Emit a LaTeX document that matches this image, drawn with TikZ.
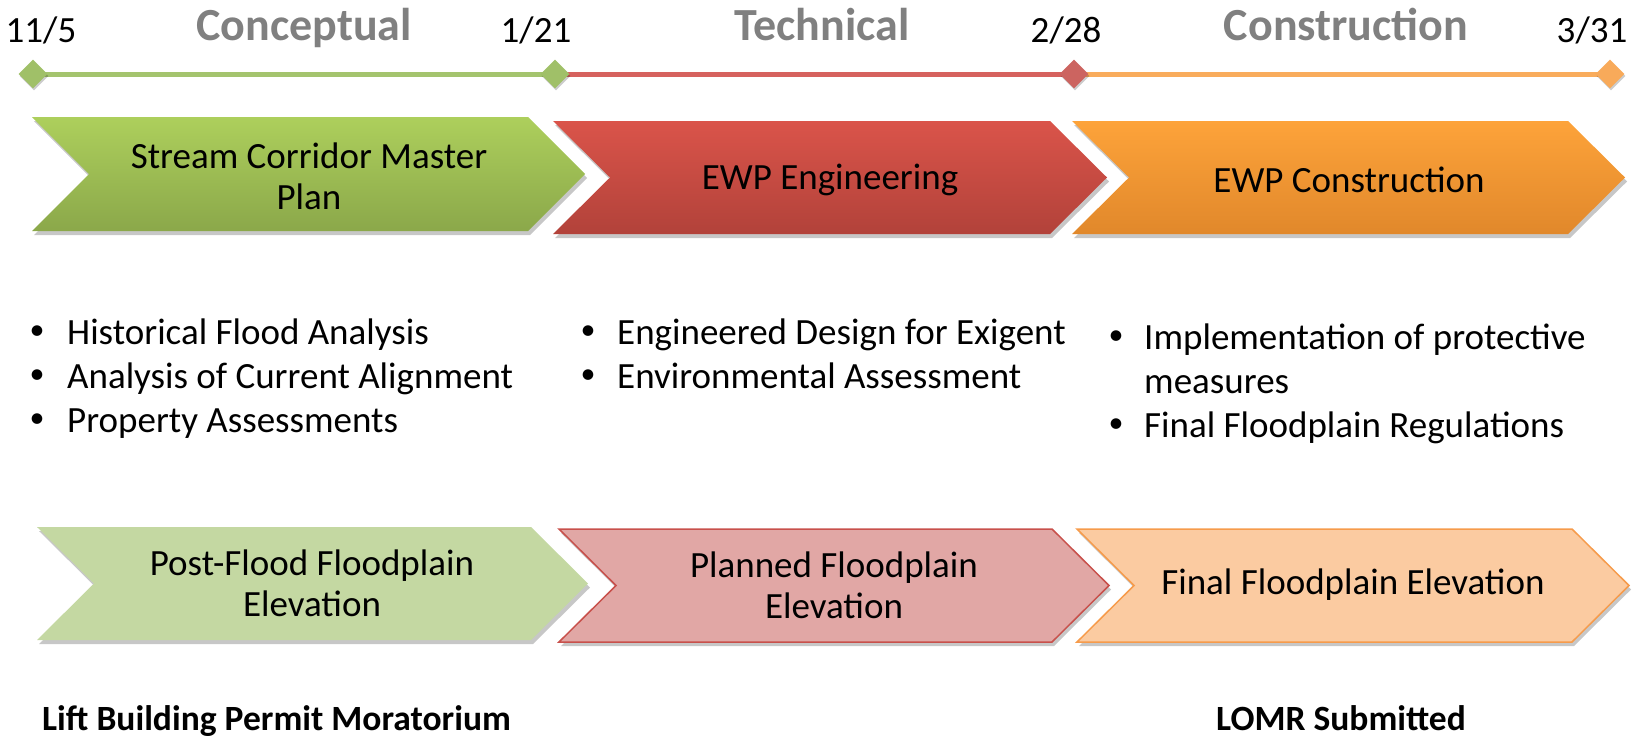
\documentclass[tikz,border=0pt]{standalone}
\usepackage{fontspec}
\setmainfont{Carlito}
\usetikzlibrary{shapes.geometric,shadows}
\definecolor{gtop}{RGB}{173,207,92}
\definecolor{gbot}{RGB}{139,168,74}
\definecolor{rtop}{RGB}{218,84,74}
\definecolor{rbot}{RGB}{178,66,58}
\definecolor{otop}{RGB}{253,163,58}
\definecolor{obot}{RGB}{225,136,43}
\definecolor{gline}{RGB}{164,196,110}
\definecolor{rline}{RGB}{214,98,94}
\definecolor{oline}{RGB}{249,172,92}
\definecolor{gdia}{RGB}{160,192,104}
\definecolor{rdia}{RGB}{204,100,96}
\definecolor{odia}{RGB}{248,170,90}
\definecolor{glight}{RGB}{196,216,162}
\definecolor{rlight}{RGB}{225,167,165}
\definecolor{rborder}{RGB}{200,80,75}
\definecolor{olight}{RGB}{251,203,161}
\definecolor{oborder}{RGB}{246,155,75}
\definecolor{phasegray}{RGB}{128,128,128}
\newcommand\chevshape[6]{%
  \path[#1] (#2,#3) -- ({#4-#6},#3) -- (#4,{(#3+#5)/2}) -- ({#4-#6},#5) -- (#2,#5) -- ({#2+#6},{(#3+#5)/2}) -- cycle;}
\tikzset{
  datelbl/.style={font=\fontsize{37}{44}\selectfont, anchor=base, inner sep=0pt},
  phaselbl/.style={font=\fontsize{46}{50}\selectfont\bfseries, text=phasegray, anchor=base, inner sep=0pt},
  dia/.style={diamond, minimum width=29pt, minimum height=29pt, inner sep=0pt, fill=#1,
     drop shadow={shadow xshift=1pt, shadow yshift=-2pt, opacity=0.2, fill=black}},
  tline/.style={line width=5pt, draw=#1},
  chevtxt/.style={font=\fontsize{37}{41}\selectfont, align=center, inner sep=0pt},
  bul/.style={font=\fontsize{37}{44}\selectfont, anchor=base west, inner sep=0pt},
  bdot/.style={font=\fontsize{30}{30}\selectfont, anchor=center, inner sep=0pt},
  milestone/.style={font=\fontsize{35.5}{44}\selectfont\bfseries, anchor=base, inner sep=0pt},
  shad/.style={drop shadow={shadow xshift=2pt, shadow yshift=-4pt, opacity=0.22, fill=black}},
}
\begin{document}
\begin{tikzpicture}[x=1pt,y=-1pt]
\useasboundingbox (0,0) rectangle (1637,744);

% timeline anchors (drawn first so lines sit underneath the diamonds)
\coordinate (k1) at (33,74);
\coordinate (k2) at (555,74);
\coordinate (k3) at (1074,74);
\coordinate (k4) at (1610,74);
\draw[tline=gline] (k1) -- (k2);
\draw[tline=rline] (k2) -- (k3);
\draw[tline=oline] (k3) -- (k4);
\node[dia=gdia] (d1) at (k1) {};
\node[dia=gdia] (d2) at (k2) {};
\node[dia=rdia] (d3) at (k3) {};
\node[dia=odia] (d4) at (k4) {};

% dates and phase titles
\node[datelbl] (t1) at (41,42) {11/5};
\node[datelbl] (t2) at (536,42) {1/21};
\node[datelbl] (t3) at (1066,42) {2/28};
\node[datelbl] (t4) at (1592,42) {3/31};
\node[phaselbl] (ph1) at (304,40) {Conceptual};
\node[phaselbl] (ph2) at (822,40) {Technical};
\node[phaselbl] (ph3) at (1346,40) {Construction};

% top chevrons
\chevshape{shad, top color=gtop, bottom color=gbot}{32}{117}{585}{231}{57}
\chevshape{shad, top color=rtop, bottom color=rbot}{553}{121}{1107}{234}{57}
\chevshape{shad, top color=otop, bottom color=obot}{1072}{121}{1625}{234}{57}
\node[chevtxt] (c1) at (309,176) {Stream Corridor Master\\Plan};
\node[chevtxt] (c2) at (830,180) {EWP Engineering};
\node[chevtxt] (c3) at (1349,180) {EWP Construction};

% bullets
\node[bdot] (b1a) at (37,333) {\textbullet};
\node[bul] (b1at) at (67,344) {Historical Flood Analysis};
\node[bdot] (b1b) at (37,377) {\textbullet};
\node[bul] (b1bt) at (67,388) {Analysis of Current Alignment};
\node[bdot] (b1c) at (37,421) {\textbullet};
\node[bul] (b1ct) at (67,432) {Property Assessments};

\node[bdot] (b2a) at (588,333) {\textbullet};
\node[bul] (b2at) at (617,344) {Engineered Design for Exigent};
\node[bdot] (b2b) at (588,377) {\textbullet};
\node[bul] (b2bt) at (617,388) {Environmental Assessment};

\node[bdot] (b3a) at (1116,338) {\textbullet};
\node[bul] (b3at) at (1144,349) {Implementation of protective};
\node[bul] (b3at2) at (1144,393) {measures};
\node[bdot] (b3b) at (1116,426) {\textbullet};
\node[bul] (b3bt) at (1144,437) {Final Floodplain Regulations};

% bottom chevrons
\chevshape{shad, fill=glight}{37}{527}{588}{640}{57}
\chevshape{shad, fill=rlight, draw=rborder, line width=1.5pt}{559}{529}{1109}{642}{57}
\chevshape{shad, fill=olight, draw=oborder, line width=1.5pt}{1077}{529}{1629}{642}{57}
\node[chevtxt] (p1) at (312,583) {Post-Flood Floodplain\\Elevation};
\node[chevtxt] (p2) at (834,585) {Planned Floodplain\\Elevation};
\node[chevtxt] (p3) at (1353,585) {Final Floodplain Elevation};

% milestones
\node[milestone, anchor=base west] (m1) at (42,730) {Lift Building Permit Moratorium};
\node[milestone] (m2) at (1341,730) {LOMR Submitted};
\end{tikzpicture}
\end{document}
